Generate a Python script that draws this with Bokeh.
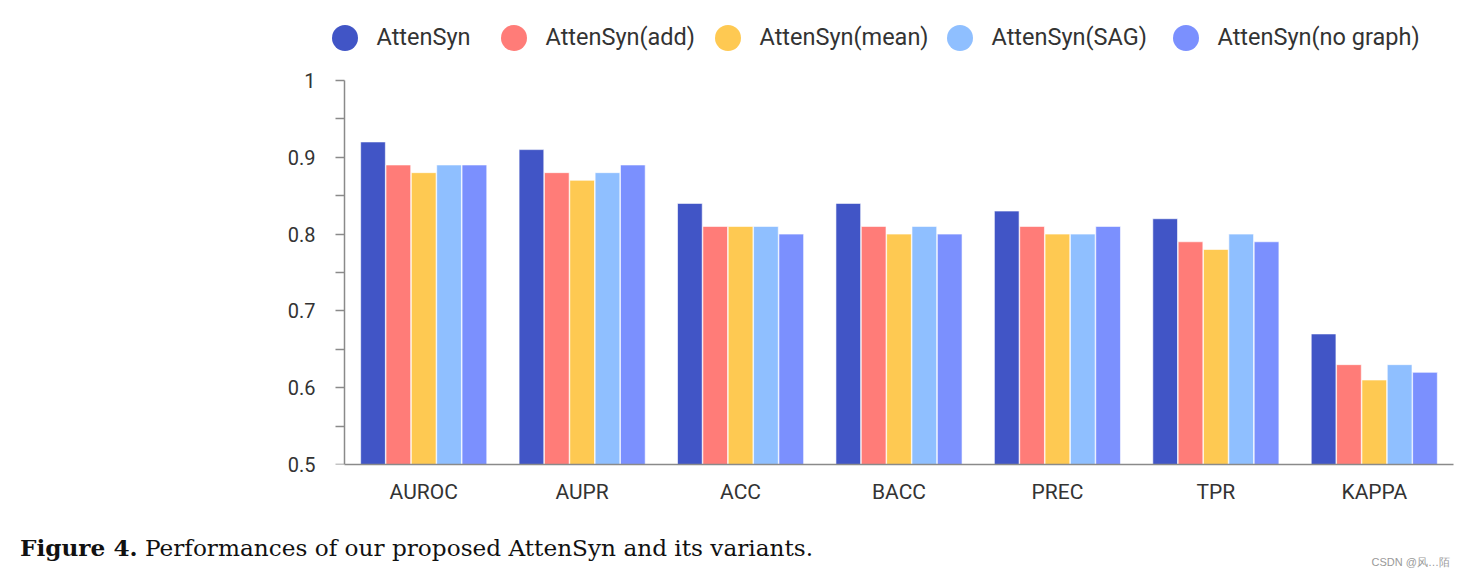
from bokeh.plotting import figure
from bokeh.layouts import column
from bokeh.models import FactorRange, Range1d, FixedTicker, Legend, LegendItem, Div, LinearAxis
from bokeh.transform import dodge
from bokeh.embed import file_html
from bokeh.resources import INLINE

metrics = ["AUROC", "AUPR", "ACC", "BACC", "PREC", "TPR", "KAPPA"]
series = ["AttenSyn", "AttenSyn(add)", "AttenSyn(mean)", "AttenSyn(SAG)", "AttenSyn(no graph)"]
attensyn = [0.92, 0.91, 0.84, 0.84, 0.83, 0.82, 0.67]
attensyn_add = [0.89, 0.88, 0.81, 0.81, 0.81, 0.79, 0.63]
attensyn_mean = [0.88, 0.87, 0.81, 0.80, 0.80, 0.78, 0.61]
attensyn_sag = [0.89, 0.88, 0.81, 0.81, 0.80, 0.80, 0.63]
attensyn_nograph = [0.89, 0.89, 0.80, 0.80, 0.81, 0.79, 0.62]
y_ticks = [0.5, 0.6, 0.7, 0.8, 0.9, 1.0]
y_tick_labels = ["0.5", "0.6", "0.7", "0.8", "0.9", "1"]
y_minor_ticks = [0.55, 0.65, 0.75, 0.85, 0.95]
colors = ["#4155c6", "#ff7c78", "#fec952", "#8fbfff", "#7b90fe"]
caption_bold = "Figure 4."
caption_text = "Performances of our proposed AttenSyn and its variants."
watermark = "CSDN @风…陌"

values = [attensyn, attensyn_add, attensyn_mean, attensyn_sag, attensyn_nograph]
data = {"metric": metrics}
for i, v in enumerate(values):
    data["s%d" % i] = v

# ---- layout constants (pixels) ----
W = 1465
H_MAIN, H_CAP = 520, 59
AXIS_X = 344          # x of the y-axis line
AXIS_Y = 464          # y of the x-axis line (from top)
RIGHT_END = 1453      # right end of the x-axis line
Y_TOP_PX = 80         # pixel row of y = 1.0
Y_LABEL_RIGHT = 315   # right edge of y tick labels
legend_centers_px = [344, 513, 727, 959, 1185]
LEGEND_CY = 37
GLYPH_BOX = 65

ncat = len(metrics)
cat_px = (RIGHT_END - AXIS_X) / ncat
pad_px = W - RIGHT_END
frame_left = AXIS_X - pad_px
y_lo, y_hi_tick = y_ticks[0], y_ticks[-1]
px_per_unit = (AXIS_Y - Y_TOP_PX) / (y_hi_tick - y_lo)
y_top = y_lo + AXIS_Y / px_per_unit

p = figure(width=W, height=H_MAIN,
           x_range=FactorRange(*metrics, range_padding=2 * (pad_px / cat_px) / ncat),
           y_range=Range1d(y_lo, y_top), output_backend="svg", toolbar_location=None,
           min_border_left=frame_left, min_border_right=0, min_border_top=0,
           min_border_bottom=H_MAIN - AXIS_Y)
p.outline_line_color = None
p.xgrid.grid_line_color = None
p.ygrid.grid_line_color = None

offsets = [-0.32, -0.16, 0.0, 0.16, 0.32]
for i in range(len(series)):
    p.vbar(x=dodge("metric", offsets[i], range=p.x_range), top="s%d" % i, bottom=y_lo,
           width=0.156, source=data, fill_color=colors[i], line_color="white",
           line_width=1, line_alpha=0.6)

# legends: one per series; swatch renderer uses the data but draws zero-size markers
for i, name in enumerate(series):
    r = p.scatter(x=dodge("metric", offsets[i], range=p.x_range), y="s%d" % i, source=data,
                  marker="circle", size=0, fill_color=colors[i], line_color=None)
    lg = Legend(items=[LegendItem(label=name, renderers=[r])],
                location=(legend_centers_px[i] - GLYPH_BOX / 2 - frame_left,
                          AXIS_Y - (LEGEND_CY + GLYPH_BOX / 2)),
                glyph_width=GLYPH_BOX, glyph_height=GLYPH_BOX, label_standoff=-4,
                padding=0, margin=0, border_line_color=None, background_fill_alpha=0,
                label_text_font="Roboto", label_text_font_size="23.5px",
                label_text_color="#333333")
    p.add_layout(lg)

tick_overrides = {t: l for t, l in zip(y_ticks, y_tick_labels)}

# inner left axis: labels only (sits at the frame edge)
ya = p.yaxis[0]
ya.ticker = FixedTicker(ticks=y_ticks)
ya.major_label_overrides = tick_overrides
ya.axis_line_color = None
ya.major_tick_line_color = None
ya.minor_tick_line_color = None
ya.major_tick_out = 0
ya.major_tick_in = 0
ya.minor_tick_out = 0
ya.minor_tick_in = 0
ya.major_label_standoff = frame_left - Y_LABEL_RIGHT
ya.major_label_text_font = "Roboto"
ya.major_label_text_font_size = "20px"
ya.major_label_text_color = "#333333"

# axis line and ticks at the start of the first category
yline = LinearAxis(fixed_location=0, bounds=(y_lo, y_hi_tick),
                   ticker=FixedTicker(ticks=y_ticks, minor_ticks=y_minor_ticks),
                   major_label_text_font_size="0px", major_label_text_alpha=0,
                   axis_line_color="#8a8a8a", axis_line_width=1.5,
                   major_tick_line_color="#8a8a8a", minor_tick_line_color="#8a8a8a",
                   major_tick_line_width=1.5, minor_tick_line_width=1.5,
                   major_tick_out=9, major_tick_in=0, minor_tick_out=9, minor_tick_in=0)
p.add_layout(yline, "left")

xa = p.xaxis[0]
xa.bounds = (0, ncat)
xa.axis_line_color = "#8a8a8a"
xa.axis_line_width = 1.5
xa.major_tick_line_color = None
xa.minor_tick_line_color = None
xa.major_label_standoff = 9
xa.major_label_text_font = "Roboto"
xa.major_label_text_font_size = "21px"
xa.major_label_text_color = "#333333"

caption_html = (
    '<div style="position:relative;width:%dpx;height:%dpx;">'
    '<span style="position:absolute;left:20px;top:15px;white-space:nowrap;'
    "font-family:'DejaVu Serif';font-size:23.2px;line-height:26px;color:#111111;\">"
    '<b>%s</b> %s</span>'
    '<span style="position:absolute;right:15px;top:37px;white-space:nowrap;'
    "font-family:'Liberation Sans';font-size:11px;line-height:11px;color:#999999;\">%s</span>"
    '</div>' % (W, H_CAP, caption_bold, caption_text, watermark)
)
cap = Div(text=caption_html, width=W, height=H_CAP, margin=0)

layout = column(p, cap, spacing=0)
open("out.html", "w").write(file_html(layout, INLINE))
